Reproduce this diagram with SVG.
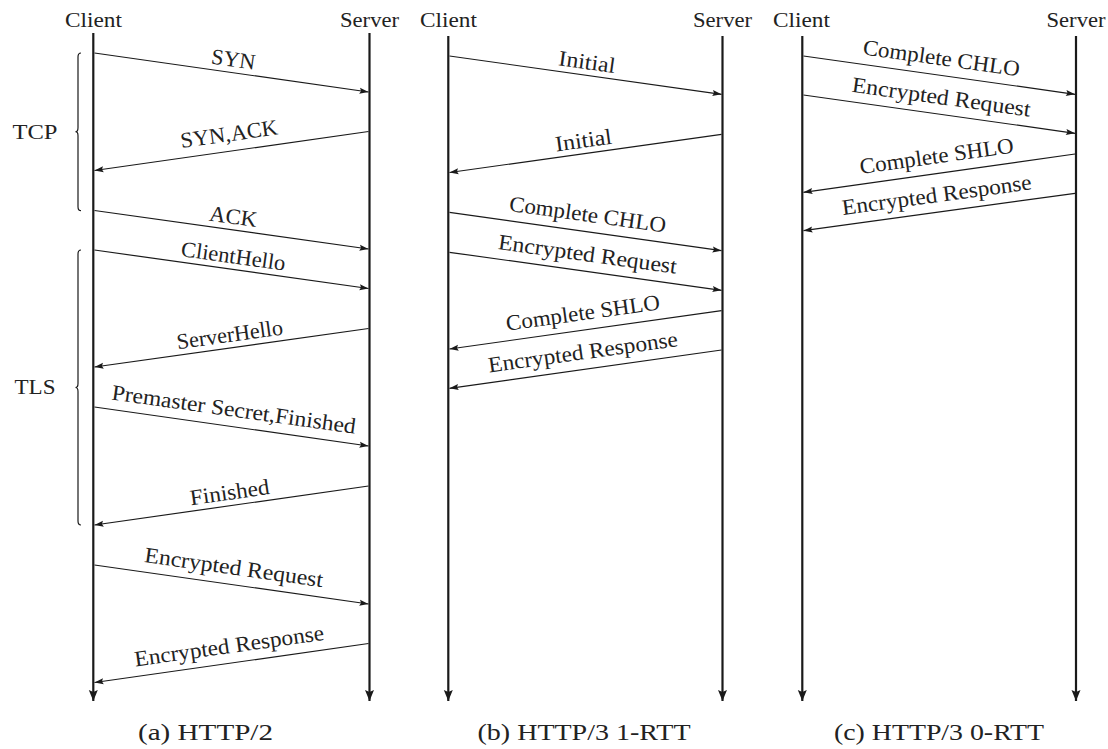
<svg xmlns="http://www.w3.org/2000/svg" width="1108" height="749" viewBox="0 0 1108 749">
<style>
text{font-family:"Liberation Serif","DejaVu Serif",serif;font-size:22px;fill:#222}
.m{text-anchor:middle}
.cap{font-size:24px}
.life{stroke:#1a1a1a;stroke-width:2.2;fill:none;marker-end:url(#big)}
.msg{stroke:#1a1a1a;stroke-width:1.2;fill:none;marker-end:url(#small)}
.brace{stroke:#1a1a1a;stroke-width:1.2;fill:none}
</style>
<defs>
<marker id="small" markerUnits="userSpaceOnUse" markerWidth="10" markerHeight="8" refX="9" refY="3" orient="auto" overflow="visible">
<path d="M0,0 L9,3 L0,6 L1.5,3 z" fill="#1a1a1a"/>
</marker>
<marker id="big" markerUnits="userSpaceOnUse" markerWidth="12" markerHeight="10" refX="11" refY="4.5" orient="auto" overflow="visible">
<path d="M0,0 L11,4.5 L0,9 L2,4.5 z" fill="#1a1a1a"/>
</marker>
</defs>

<g id="panel-a">
<g id="a-client"><text class="m" x="93.5" y="27" textLength="57" lengthAdjust="spacingAndGlyphs">Client</text><line class="life" x1="93.3" y1="33" x2="93.3" y2="701"/></g>
<g id="a-server"><text class="m" x="369.5" y="27" textLength="59" lengthAdjust="spacingAndGlyphs">Server</text><line class="life" x1="369.5" y1="33" x2="369.5" y2="701"/></g>
<g id="a-tcp"><text class="m" x="35" y="139" textLength="45" lengthAdjust="spacingAndGlyphs">TCP</text><path class="brace" d="M81,53 Q78,53 78,57 L78,127.7 Q78,131.7 75.5,131.7 Q78,131.7 78,135.7 L78,206.7 Q78,210.7 81,210.7"/></g>
<g id="a-tls"><text class="m" x="35" y="394" textLength="41" lengthAdjust="spacingAndGlyphs">TLS</text><path class="brace" d="M81,250 Q78,250 78,254 L78,383.5 Q78,387.5 75.5,387.5 Q78,387.5 78,391.5 L78,521 Q78,525 81,525"/></g>
<g id="a-caption"><text class="m cap" x="205.5" y="740" textLength="135" lengthAdjust="spacingAndGlyphs">(a) HTTP/2</text></g>
</g>

<g id="panel-b">
<g id="b-client"><text class="m" x="448.5" y="27" textLength="57" lengthAdjust="spacingAndGlyphs">Client</text><line class="life" x1="448.3" y1="36" x2="448.3" y2="701"/></g>
<g id="b-server"><text class="m" x="722.5" y="27" textLength="59" lengthAdjust="spacingAndGlyphs">Server</text><line class="life" x1="722.5" y1="36" x2="722.5" y2="701"/></g>
<g id="b-caption"><text class="m cap" x="584" y="740" textLength="213" lengthAdjust="spacingAndGlyphs">(b) HTTP/3 1-RTT</text></g>
</g>

<g id="panel-c">
<g id="c-client"><text class="m" x="801.5" y="27" textLength="57" lengthAdjust="spacingAndGlyphs">Client</text><line class="life" x1="802.3" y1="36" x2="802.3" y2="701"/></g>
<g id="c-server"><text class="m" x="1076" y="27" textLength="59" lengthAdjust="spacingAndGlyphs">Server</text><line class="life" x1="1076" y1="36" x2="1076" y2="701"/></g>
<g id="c-caption"><text class="m cap" x="939" y="740" textLength="210" lengthAdjust="spacingAndGlyphs">(c) HTTP/3 0-RTT</text></g>
</g>

<g id="connectors">
<!-- panel a -->
<line class="msg" x1="94.5" y1="53" x2="368.5" y2="92"/>
<line class="msg" x1="368.5" y1="131.5" x2="94.5" y2="170.5"/>
<line class="msg" x1="94.5" y1="210.5" x2="368.5" y2="249"/>
<line class="msg" x1="94.5" y1="250" x2="368.5" y2="288.5"/>
<line class="msg" x1="368.5" y1="328.5" x2="94.5" y2="367"/>
<line class="msg" x1="94.5" y1="407" x2="368.5" y2="446"/>
<line class="msg" x1="368.5" y1="486" x2="94.5" y2="525"/>
<line class="msg" x1="94.5" y1="565" x2="368.5" y2="604"/>
<line class="msg" x1="368.5" y1="643.5" x2="94.5" y2="682.5"/>
<!-- panel b -->
<line class="msg" x1="449.5" y1="56" x2="721.5" y2="94.3"/>
<line class="msg" x1="721.5" y1="134.3" x2="449.5" y2="172.5"/>
<line class="msg" x1="449.5" y1="212.3" x2="721.5" y2="250.7"/>
<line class="msg" x1="449.5" y1="252.3" x2="721.5" y2="290.3"/>
<line class="msg" x1="721.5" y1="310.7" x2="449.5" y2="349"/>
<line class="msg" x1="721.5" y1="350" x2="449.5" y2="388.3"/>
<!-- panel c -->
<line class="msg" x1="803.5" y1="56" x2="1075" y2="94.3"/>
<line class="msg" x1="803.5" y1="95" x2="1075" y2="133.3"/>
<line class="msg" x1="1075" y1="154" x2="803.5" y2="192.3"/>
<line class="msg" x1="1075" y1="193.3" x2="803.5" y2="230.7"/>

<!-- labels panel a -->
<g transform="translate(231.5,72.5) rotate(8.01)"><text class="m" y="-6" textLength="44" lengthAdjust="spacingAndGlyphs">SYN</text></g>
<g transform="translate(231.5,151) rotate(-8.01)"><text class="m" y="-10" textLength="98" lengthAdjust="spacingAndGlyphs">SYN,ACK</text></g>
<g transform="translate(231.5,229.75) rotate(8.01)"><text class="m" y="-6" textLength="48" lengthAdjust="spacingAndGlyphs">ACK</text></g>
<g transform="translate(231.5,269.25) rotate(8.01)"><text class="m" y="-6" textLength="105" lengthAdjust="spacingAndGlyphs">ClientHello</text></g>
<g transform="translate(231.5,347.75) rotate(-8.01)"><text class="m" y="-6" textLength="107" lengthAdjust="spacingAndGlyphs">ServerHello</text></g>
<g transform="translate(231.5,426.5) rotate(8.01)"><text class="m" y="-10" textLength="246" lengthAdjust="spacingAndGlyphs">Premaster Secret,Finished</text></g>
<g transform="translate(231.5,505.5) rotate(-8.01)"><text class="m" y="-6" textLength="80" lengthAdjust="spacingAndGlyphs">Finished</text></g>
<g transform="translate(231.5,584.5) rotate(8.01)"><text class="m" y="-10" textLength="180" lengthAdjust="spacingAndGlyphs">Encrypted Request</text></g>
<g transform="translate(231.5,663) rotate(-8.01)"><text class="m" y="-10" textLength="191" lengthAdjust="spacingAndGlyphs">Encrypted Response</text></g>
<!-- labels panel b -->
<g transform="translate(585.25,75.15) rotate(7.94)"><text class="m" y="-6" textLength="57" lengthAdjust="spacingAndGlyphs">Initial</text></g>
<g transform="translate(585.25,153.4) rotate(-7.94)"><text class="m" y="-6" textLength="57" lengthAdjust="spacingAndGlyphs">Initial</text></g>
<g transform="translate(585.25,231.5) rotate(7.97)"><text class="m" y="-10" textLength="158" lengthAdjust="spacingAndGlyphs">Complete CHLO</text></g>
<g transform="translate(585.25,271.3) rotate(7.89)"><text class="m" y="-10" textLength="180" lengthAdjust="spacingAndGlyphs">Encrypted Request</text></g>
<g transform="translate(585.25,329.85) rotate(-7.94)"><text class="m" y="-10" textLength="155" lengthAdjust="spacingAndGlyphs">Complete SHLO</text></g>
<g transform="translate(585.25,369.15) rotate(-7.94)"><text class="m" y="-10" textLength="191" lengthAdjust="spacingAndGlyphs">Encrypted Response</text></g>
<!-- labels panel c -->
<g transform="translate(939,75.15) rotate(7.96)"><text class="m" y="-10" textLength="158" lengthAdjust="spacingAndGlyphs">Complete CHLO</text></g>
<g transform="translate(939,114.15) rotate(7.96)"><text class="m" y="-10" textLength="180" lengthAdjust="spacingAndGlyphs">Encrypted Request</text></g>
<g transform="translate(939,173.15) rotate(-7.96)"><text class="m" y="-10" textLength="155" lengthAdjust="spacingAndGlyphs">Complete SHLO</text></g>
<g transform="translate(939,212) rotate(-7.77)"><text class="m" y="-10" textLength="191" lengthAdjust="spacingAndGlyphs">Encrypted Response</text></g>
</g>
</svg>
